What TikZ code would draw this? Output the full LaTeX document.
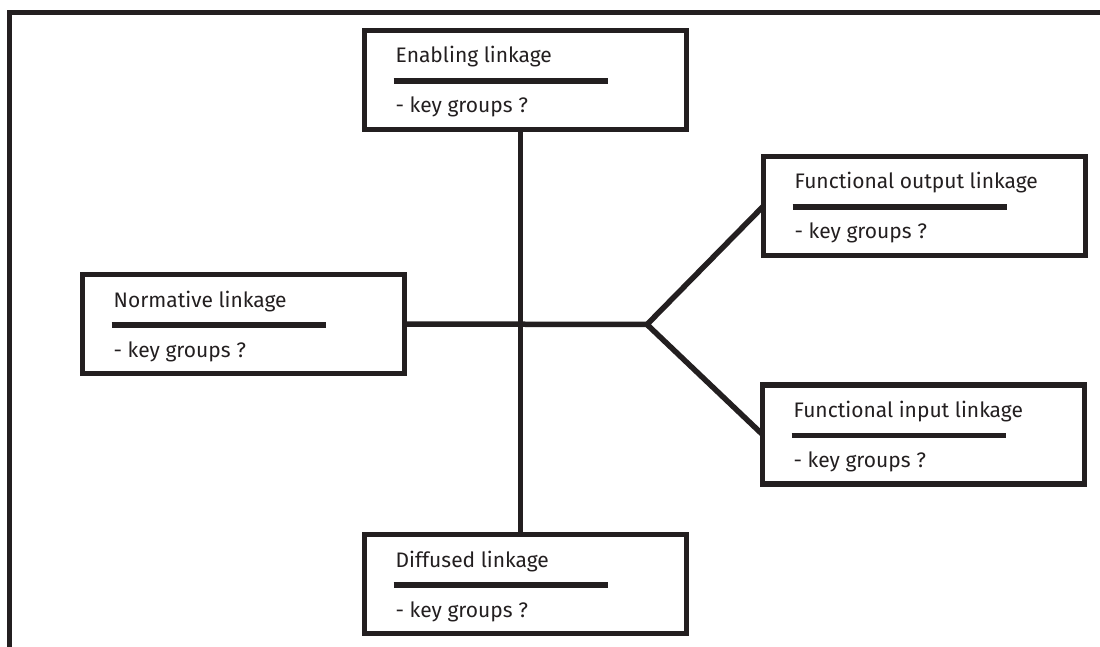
\documentclass[tikz,border=0pt]{standalone}
\usepackage{fontspec}
\setmainfont{Fira Sans}
\definecolor{ink}{HTML}{231F20}
\begin{document}
\begin{tikzpicture}[x=1pt,y=-1pt,
  heavy/.style={draw=ink, line width=5.5pt},
  linkbox/.style={heavy, rectangle, minimum width=322pt, minimum height=99pt,
    inner sep=0pt, outer sep=0pt, anchor=north west},
  boxtext/.style={anchor=base west, inner sep=0pt, font=\fontsize{21}{25}\selectfont, text=ink},
  uline/.style={heavy},
  link/.style={heavy, line join=miter}]
\useasboundingbox (0,0) rectangle (1100,647);

% outer frame, open at the right and bottom
\draw[heavy] (9.5,647) -- (9.5,12.5) -- (1100,12.5);

% a box with a title, a rule under it and a line of notes
\newcommand\linkbox[3]{%
  \node[linkbox] (#1) at #2 {};
  \node[boxtext] (#1-t) at ([shift={(31,32.5)}]#1.north west) {#3};
  \draw[uline] ([shift={(29,50.5)}]#1.north west) -- ++(214,0);
  \node[boxtext] (#1-k) at ([shift={(31,82.5)}]#1.north west) {- key groups ?};
}

\linkbox{enab}{(364.5,30.5)}{Enabling linkage}
\linkbox{fout}{(763.5,156.5)}{Functional output linkage}
\linkbox{norm}{(82.5,274.5)}{Normative linkage}
\linkbox{fin}{(762.5,385)}{Functional input linkage}
\linkbox{diff}{(364.5,534.5)}{Diffused linkage}

% junctions of the connectors
\coordinate (hub) at (520.5,324.5);
\coordinate (fork) at (647,324.5);

% connectors
\draw[link] (hub |- enab.south) -- (hub |- diff.north);
\draw[link] (norm.east) -- (fork);
\draw[link] (fout.west) -- (fork) -- (fin.west);
\end{tikzpicture}
\end{document}
